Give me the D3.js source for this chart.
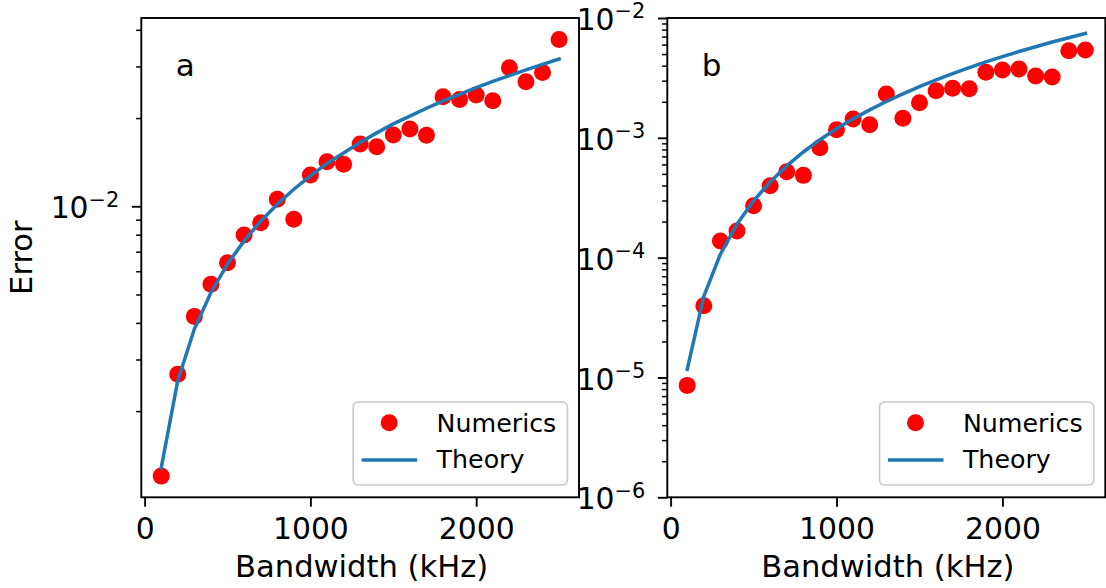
<!DOCTYPE html>
<html>
<head>
<meta charset="utf-8">
<script src="https://cdn.jsdelivr.net/npm/d3@7"></script>
<style>
  html, body { margin: 0; padding: 0; background: #fff; }
  svg { display: block; font-family: "DejaVu Sans", sans-serif; }
</style>
</head>
<body>
<svg id="chart" width="1106" height="588"></svg>
<script>
// ---------------- data ----------------
const bandwidth = [100, 200, 300, 400, 500, 600, 700, 800, 900, 1000, 1100, 1200, 1300,
                   1400, 1500, 1600, 1700, 1800, 1900, 2000, 2100, 2200, 2300, 2400, 2500];

const numericsA = [0.00120, 0.00267, 0.00421, 0.00542, 0.00642, 0.00798, 0.00879, 0.01057,
                   0.00903, 0.01279, 0.01419, 0.01390, 0.01630, 0.01596, 0.01750, 0.01835,
                   0.01746, 0.02365, 0.02316, 0.02397, 0.02290, 0.02970, 0.02660, 0.02860, 0.03710];
const theoryA   = [0.00128, 0.00254, 0.00381, 0.00508, 0.00635, 0.00762, 0.00889, 0.01016,
                   0.01143, 0.0127, 0.0140, 0.0152, 0.0165, 0.0178, 0.0191, 0.0203,
                   0.0216, 0.0229, 0.0241, 0.0254, 0.0267, 0.0279, 0.0292, 0.0305, 0.0318];

const numericsB = [8.59e-6, 3.97e-5, 1.38e-4, 1.67e-4, 2.71e-4, 3.98e-4, 5.21e-4, 4.86e-4,
                   8.26e-4, 1.17e-3, 1.435e-3, 1.285e-3, 2.32e-3, 1.455e-3, 1.963e-3, 2.47e-3,
                   2.59e-3, 2.57e-3, 3.52e-3, 3.68e-3, 3.75e-3, 3.28e-3, 3.22e-3, 5.33e-3, 5.41e-3];
const theoryB   = [1.17e-5, 4.76e-5, 1.07e-4, 1.90e-4, 2.98e-4, 4.28e-4, 5.83e-4, 7.62e-4,
                   9.64e-4, 1.19e-3, 1.44e-3, 1.71e-3, 2.01e-3, 2.33e-3, 2.68e-3, 3.05e-3,
                   3.44e-3, 3.86e-3, 4.30e-3, 4.76e-3, 5.25e-3, 5.76e-3, 6.30e-3, 6.85e-3, 7.44e-3];

const xTicks = [0, 1000, 2000];
const yMajorA = [1e-2];
const yMinorA = [2e-3, 3e-3, 4e-3, 5e-3, 6e-3, 7e-3, 8e-3, 9e-3, 2e-2, 3e-2, 4e-2];
const yMajorB = [1e-6, 1e-5, 1e-4, 1e-3, 1e-2];
const yMinorB = [2e-6, 3e-6, 4e-6, 5e-6, 6e-6, 7e-6, 8e-6, 9e-6,
                 2e-5, 3e-5, 4e-5, 5e-5, 6e-5, 7e-5, 8e-5, 9e-5,
                 2e-4, 3e-4, 4e-4, 5e-4, 6e-4, 7e-4, 8e-4, 9e-4,
                 2e-3, 3e-3, 4e-3, 5e-3, 6e-3, 7e-3, 8e-3, 9e-3];
const legendLabels = ["Numerics", "Theory"];
const xLabel = "Bandwidth (kHz)";
const yLabel = "Error";

// ---------------- styles ----------------
const RED = "#ff0000";
const BLUE = "#1f77b4";
const TICK_FONT = 29.8;
const LABEL_FONT = 30.6;
const LEGEND_FONT = 25.3;
const LETTER_FONT = 31;
const SPINE_W = 1.9;

const svg = d3.select("#chart");
const plotTop = 18, plotBottom = 497.3;

const panels = [
  { left: 141.3, right: 579, yDomain: [1.016e-3, 4.39e-2], num: numericsA, th: theoryA,
    major: yMajorA, minor: yMinorA, letter: "a" },
  { left: 667.3, right: 1105.3, yDomain: [1e-6, 1e-2], num: numericsB, th: theoryB,
    major: yMajorB, minor: yMinorB, letter: "b" }
];

const expMap = { "-2": "\u22122", "-3": "\u22123", "-4": "\u22124", "-5": "\u22125", "-6": "\u22126" };

panels.forEach((p, pi) => {
  const x = d3.scaleLinear().domain([-20, 2620]).range([p.left, p.right]);
  const y = d3.scaleLog().domain(p.yDomain).range([plotBottom, plotTop]);
  const g = svg.append("g");
  const clipId = "clip" + pi;
  svg.append("clipPath").attr("id", clipId)
    .append("rect").attr("x", p.left).attr("y", plotTop)
    .attr("width", p.right - p.left).attr("height", plotBottom - plotTop);

  const plot = g.append("g").attr("clip-path", `url(#${clipId})`);
  plot.selectAll("circle.pt").data(p.num).enter().append("circle")
    .attr("class", "pt")
    .attr("cx", (d, i) => x(bandwidth[i])).attr("cy", d => y(d))
    .attr("r", 8.5).attr("fill", RED);
  const line = d3.line().x((d, i) => x(bandwidth[i])).y(d => y(d));
  plot.append("path").datum(p.th)
    .attr("d", line).attr("fill", "none").attr("stroke", BLUE)
    .attr("stroke-width", 3.5).attr("stroke-linecap", "square");

  // x axis
  const xAxis = d3.axisBottom(x).tickValues(xTicks).tickSize(9.4).tickPadding(11.5)
    .tickFormat(d3.format("d"));
  const gx = g.append("g").attr("transform", `translate(0,${plotBottom})`).call(xAxis);
  gx.select(".domain").remove();
  gx.selectAll("line").attr("stroke", "#000").attr("stroke-width", SPINE_W);
  gx.selectAll("text").attr("font-size", TICK_FONT).attr("font-family", "DejaVu Sans")
    .attr("fill", "#000");

  // y minor ticks
  const gyMinor = g.append("g").attr("transform", `translate(${p.left},0)`)
    .call(d3.axisLeft(y).tickValues(p.minor).tickSize(5.2).tickFormat(""));
  gyMinor.select(".domain").remove();
  gyMinor.selectAll("line").attr("stroke", "#000").attr("stroke-width", 1.5);

  // y major ticks
  const gy = g.append("g").attr("transform", `translate(${p.left},0)`)
    .call(d3.axisLeft(y).tickValues(p.major).tickSize(9.4).tickFormat(""));
  gy.select(".domain").remove();
  gy.selectAll("line").attr("stroke", "#000").attr("stroke-width", SPINE_W);
  gy.selectAll(".tick").each(function (d) {
    const e = Math.round(Math.log10(d));
    const t = d3.select(this).select("text");
    t.text(null)
      .attr("x", -22).attr("y", 11.6).attr("dy", null)
      .attr("text-anchor", "end").attr("font-size", TICK_FONT)
      .attr("font-family", "DejaVu Sans").attr("fill", "#000");
    t.append("tspan").text("10");
    t.append("tspan").attr("font-size", TICK_FONT * 0.7).attr("dy", -11.8)
      .text(expMap[String(e)]);
  });

  // frame
  g.append("rect").attr("x", p.left).attr("y", plotTop)
    .attr("width", p.right - p.left).attr("height", plotBottom - plotTop)
    .attr("fill", "none").attr("stroke", "#000").attr("stroke-width", SPINE_W);

  // x label
  g.append("text").attr("x", (p.left + p.right) / 2 + 1.5).attr("y", 577)
    .attr("text-anchor", "middle").attr("font-size", LABEL_FONT).attr("fill", "#000")
    .text(xLabel);

  // panel letter
  g.append("text").attr("x", p.left + 34.5).attr("y", 75.5)
    .attr("font-size", LETTER_FONT).attr("fill", "#000").text(p.letter);

  // legend
  const bw = 214.2, bh = 83;
  const bx = p.right - 11.6 - bw, by = 402;
  const lg = g.append("g");
  lg.append("rect").attr("x", bx).attr("y", by).attr("width", bw).attr("height", bh)
    .attr("rx", 5).attr("ry", 5)
    .attr("fill", "#fff").attr("fill-opacity", 0.8)
    .attr("stroke", "#cccccc").attr("stroke-width", 1.7);
  lg.append("circle").attr("cx", bx + 36).attr("cy", 422.7).attr("r", 8.5).attr("fill", RED);
  lg.append("line").attr("x1", bx + 8.4).attr("x2", bx + 64).attr("y1", 460).attr("y2", 460)
    .attr("stroke", BLUE).attr("stroke-width", 3.5);
  lg.append("text").attr("x", bx + 83.4).attr("y", 432.3).attr("font-size", LEGEND_FONT)
    .attr("fill", "#000").text(legendLabels[0]);
  lg.append("text").attr("x", bx + 83.4).attr("y", 467.5).attr("font-size", LEGEND_FONT)
    .attr("fill", "#000").text(legendLabels[1]);
});

// y label
svg.append("text").attr("transform", `translate(32,${(plotTop + plotBottom) / 2}) rotate(-90)`)
  .attr("text-anchor", "middle").attr("font-size", LABEL_FONT).attr("fill", "#000")
  .text(yLabel);
</script>
</body>
</html>
